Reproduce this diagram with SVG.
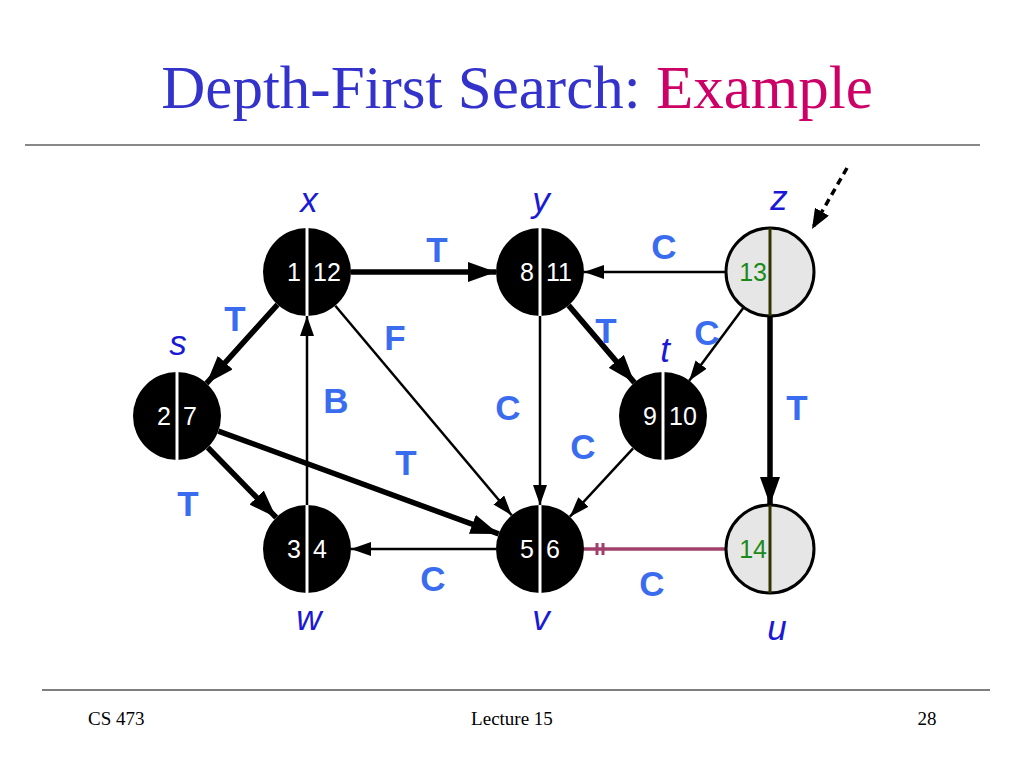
<svg xmlns="http://www.w3.org/2000/svg" width="1024" height="768" viewBox="0 0 1024 768">
<style>
.title{font-family:"Liberation Serif",serif;font-size:61px}
.foot{font-family:"Liberation Serif",serif;font-size:19px;fill:#000}
.lbl{font-family:"Liberation Sans",Arial,sans-serif;font-weight:bold;font-size:35px;fill:#3a6cf0;text-anchor:middle}
.nm{font-family:"Liberation Sans",Arial,sans-serif;font-style:italic;font-size:35px;fill:#1a1ad6;text-anchor:middle}
.num{font-family:"Liberation Sans",Arial,sans-serif;font-size:25px;fill:#fff}
.gnum{font-family:"Liberation Sans",Arial,sans-serif;font-size:25px;fill:#1a8a1a}
.blk{fill:#000}
.gry{fill:#e6e6e6;stroke:#000;stroke-width:3}
.wl{stroke:#fff;stroke-width:3}
.ol{stroke:#333300;stroke-width:3}
.thick{stroke:#000;stroke-width:5.5;fill:none;marker-end:url(#ah)}
.thin{stroke:#000;stroke-width:2.5;fill:none;marker-end:url(#as)}
</style>
<defs>
<marker id="ah" markerUnits="userSpaceOnUse" viewBox="0 0 28 20" markerWidth="28" markerHeight="20" refX="28" refY="10" orient="auto"><path d="M0,0 L28,10 L0,20 z" fill="#000"/></marker>
<marker id="as" markerUnits="userSpaceOnUse" viewBox="0 0 20 14" markerWidth="20" markerHeight="14" refX="20" refY="7" orient="auto"><path d="M0,0 L20,7 L0,14 z" fill="#000"/></marker>
<marker id="ad" markerUnits="userSpaceOnUse" viewBox="0 0 20 16" markerWidth="20" markerHeight="16" refX="20" refY="8" orient="auto"><path d="M0,0 L20,8 L0,16 z" fill="#000"/></marker>
</defs>
<rect width="1024" height="768" fill="#fff"/>
<text class="title" x="517" y="108" text-anchor="middle"><tspan fill="#3333cc">Depth-First Search: </tspan><tspan fill="#cc0066">Example</tspan></text>
<line x1="25" y1="145" x2="980" y2="145" stroke="#888" stroke-width="2"/>
<line x1="42" y1="690" x2="990" y2="690" stroke="#555" stroke-width="1.5"/>
<text class="foot" x="88" y="725">CS 473</text>
<text class="foot" x="512" y="725" text-anchor="middle">Lecture 15</text>
<text class="foot" x="927" y="725" text-anchor="middle">28</text>
<g id="connectors">
<line class="thick" x1="351" y1="272" x2="496" y2="272"/>
<line class="thin" x1="726" y1="272" x2="584" y2="272"/>
<line class="thick" x1="277.5" y1="304.6" x2="206.5" y2="383.4"/>
<line class="thin" x1="335.3" y1="305.7" x2="511.7" y2="515.3"/>
<line class="thin" x1="540" y1="316" x2="540" y2="505"/>
<line class="thick" x1="568.6" y1="305.4" x2="634.4" y2="382.6"/>
<line class="thin" x1="743.8" y1="307.3" x2="689.2" y2="380.7"/>
<line class="thick" x1="770" y1="316" x2="770" y2="505"/>
<line class="thick" x1="218.3" y1="431.1" x2="498.7" y2="533.9"/>
<line class="thick" x1="207.8" y1="447.5" x2="276.2" y2="517.5"/>
<line class="thin" x1="307" y1="505" x2="307" y2="316"/>
<line class="thin" x1="633.1" y1="448.3" x2="569.9" y2="516.7"/>
<line class="thin" x1="496" y1="549" x2="351" y2="549"/>
<line x1="584" y1="549" x2="726" y2="549" stroke="#a0406a" stroke-width="3.5"/>
<line x1="597" y1="543" x2="597" y2="555" stroke="#a0406a" stroke-width="3"/>
<line x1="603" y1="543" x2="603" y2="555" stroke="#a0406a" stroke-width="3"/>
<line x1="847" y1="168" x2="812" y2="229" stroke="#000" stroke-width="3.5" stroke-dasharray="7,5" marker-end="url(#ad)"/>
</g>
<g id="node-x"><circle class="blk" cx="307" cy="272" r="44"/><line class="wl" x1="307" y1="228" x2="307" y2="316"/><text class="num" x="301" y="281" text-anchor="end">1</text><text class="num" x="313" y="281">12</text></g>
<g id="node-y"><circle class="blk" cx="540" cy="272" r="44"/><line class="wl" x1="540" y1="228" x2="540" y2="316"/><text class="num" x="534" y="281" text-anchor="end">8</text><text class="num" x="546" y="281">11</text></g>
<g id="node-z"><circle class="gry" cx="770" cy="272" r="44"/><line class="ol" x1="770" y1="228" x2="770" y2="316"/><text class="gnum" x="767" y="281" text-anchor="end">13</text></g>
<g id="node-s"><circle class="blk" cx="177" cy="416" r="44"/><line class="wl" x1="177" y1="372" x2="177" y2="460"/><text class="num" x="171" y="425" text-anchor="end">2</text><text class="num" x="183" y="425">7</text></g>
<g id="node-t"><circle class="blk" cx="663" cy="416" r="44"/><line class="wl" x1="663" y1="372" x2="663" y2="460"/><text class="num" x="657" y="425" text-anchor="end">9</text><text class="num" x="669" y="425">10</text></g>
<g id="node-w"><circle class="blk" cx="307" cy="549" r="44"/><line class="wl" x1="307" y1="505" x2="307" y2="593"/><text class="num" x="301" y="558" text-anchor="end">3</text><text class="num" x="313" y="558">4</text></g>
<g id="node-v"><circle class="blk" cx="540" cy="549" r="44"/><line class="wl" x1="540" y1="505" x2="540" y2="593"/><text class="num" x="534" y="558" text-anchor="end">5</text><text class="num" x="546" y="558">6</text></g>
<g id="node-u"><circle class="gry" cx="770" cy="549" r="44"/><line class="ol" x1="770" y1="505" x2="770" y2="593"/><text class="gnum" x="767" y="558" text-anchor="end">14</text></g>
<g id="names">
<text class="nm" x="309" y="212">x</text>
<text class="nm" x="541" y="212">y</text>
<text class="nm" x="779" y="210">z</text>
<text class="nm" x="178" y="355">s</text>
<text class="nm" x="665" y="362">t</text>
<text class="nm" x="309" y="630">w</text>
<text class="nm" x="541" y="630">v</text>
<text class="nm" x="777" y="640">u</text>
</g>
<g id="edge-labels">
<text class="lbl" x="437" y="262">T</text>
<text class="lbl" x="664" y="259">C</text>
<text class="lbl" x="235" y="331">T</text>
<text class="lbl" x="395" y="350">F</text>
<text class="lbl" x="606" y="343">T</text>
<text class="lbl" x="707" y="345">C</text>
<text class="lbl" x="336" y="413">B</text>
<text class="lbl" x="508" y="420">C</text>
<text class="lbl" x="797" y="420">T</text>
<text class="lbl" x="583" y="459">C</text>
<text class="lbl" x="406" y="475">T</text>
<text class="lbl" x="188" y="516">T</text>
<text class="lbl" x="433" y="591">C</text>
<text class="lbl" x="652" y="596">C</text>
</g>
</svg>
